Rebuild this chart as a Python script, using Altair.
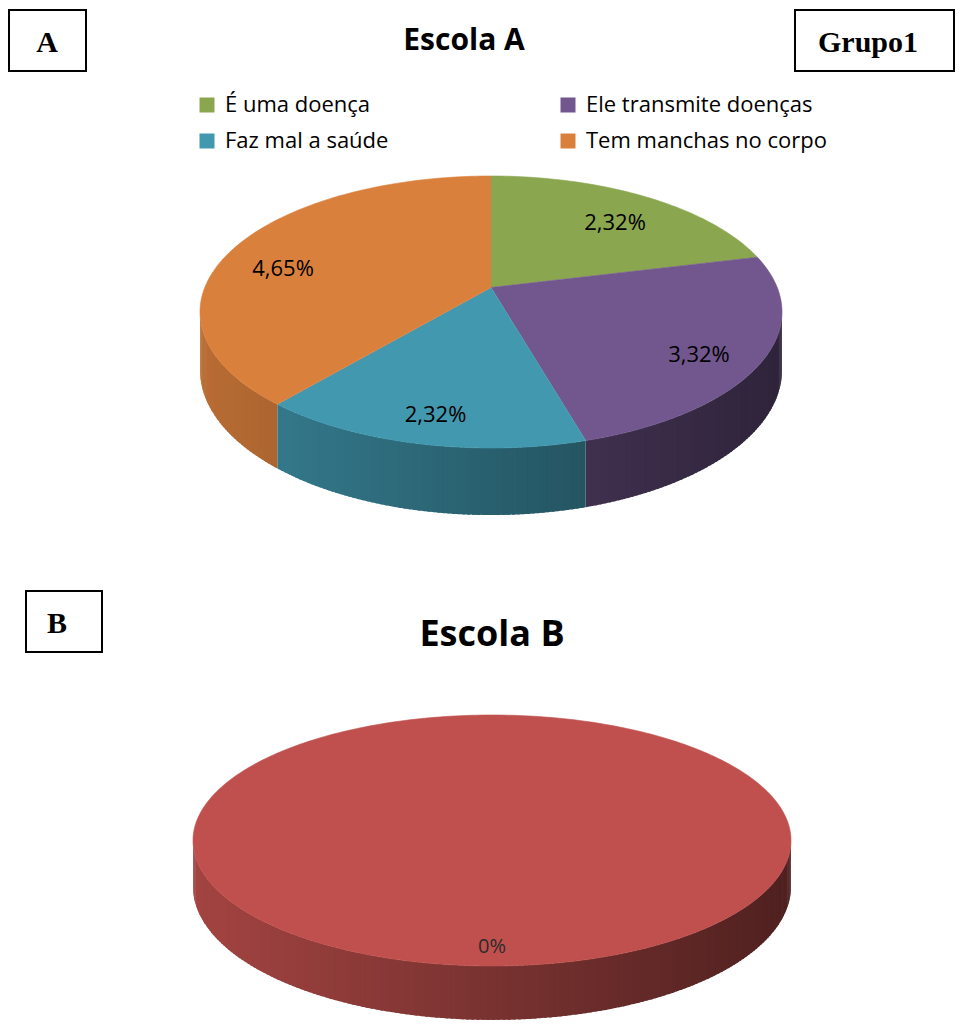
import math
import altair as alt
import pandas as pd

# ---- Escola A: answers and their percentages ----
cats_a = ["É uma doença", "Ele transmite doenças", "Faz mal a saúde", "Tem manchas no corpo"]
vals_a = [2.32, 3.32, 2.32, 4.65]
cols_a = ["#8AA64F", "#72578E", "#4198AF", "#DA803D"]

# ---- Escola B: a single answer ----
cats_b = ["Escola B"]
vals_b = [0]
cols_b = ["#C0504D"]


def shade(hexc, f):
    r, g, b = (int(hexc[i:i + 2], 16) for i in (1, 3, 5))
    return "#%02x%02x%02x" % tuple(max(0, min(255, round(c * f))) for c in (r, g, b))


def fmt_pct(v):
    if v == 0:
        return "0%"
    return f"{v:.2f}".replace(".", ",") + "%"


def pie_geometry(cats, vals, colors, apex_v, d0, k, label_r, step=1.0, overlap=0.6):
    """Top faces, front walls and label anchors of a tilted 3-D pie in unit-circle space."""
    total = sum(vals)
    n = len(vals)
    shares = [v / total for v in vals] if total > 0 else [1.0 / n] * n
    tops, sides, labels = [], [], []
    start = 90.0
    for i, (c, v, s, col) in enumerate(zip(cats, vals, shares, colors)):
        a0, a1 = start, start - 360.0 * s
        start = a1
        # top face: apex then arc, clockwise
        m = max(2, int(math.ceil((a0 - a1) / step)))
        pts = [(0.0, apex_v if s < 1 else 0.0)]
        for j in range(m + 1):
            a = math.radians(a0 - (a0 - a1) * j / m)
            pts.append((math.cos(a), math.sin(a)))
        for q, (x, y) in enumerate(pts):
            tops.append(dict(pid=f"t{i}", k=q, u=x, v=y, categoria=c, cor=col))
        # outer wall, only the front half is visible; thin strips shaded left to right
        for sh in (-360.0, 0.0, 360.0):
            lo, hi = max(a1 + sh, -180.0), min(a0 + sh, 0.0)
            if hi - lo <= 1e-9:
                continue
            ms = max(1, int(math.ceil((hi - lo) / step)))
            for j in range(ms):
                d0_deg = lo + (hi - lo) * j / ms
                d1_deg = min(hi, lo + (hi - lo) * (j + 1) / ms + overlap)
                b0, b1 = math.radians(d0_deg), math.radians(d1_deg)
                bm = 0.5 * (b0 + b1)
                fc = shade(col, 0.63 - 0.22 * math.cos(bm))
                dep0 = d0 * (1 - k * math.sin(b0))
                dep1 = d0 * (1 - k * math.sin(b1))
                quad = [
                    (math.cos(b0), math.sin(b0)),
                    (math.cos(b1), math.sin(b1)),
                    (math.cos(b1), math.sin(b1) - dep1),
                    (math.cos(b0), math.sin(b0) - dep0),
                ]
                pid = f"s{i}_{int(sh)}_{j:04d}"
                for q, (x, y) in enumerate(quad):
                    sides.append(dict(pid=pid, k=q, u=x, v=y, cor=fc))
        mid = math.radians(0.5 * (a0 + a1))
        labels.append(dict(u=label_r * math.cos(mid), v=label_r * math.sin(mid), txt=fmt_pct(v)))
    return pd.DataFrame(tops), pd.DataFrame(sides), pd.DataFrame(labels)


def pie_chart(cats, vals, colors, xr, yr, apex_v, d0, k, label_r, label_style, legend):
    tops, sides, labels = pie_geometry(cats, vals, colors, apex_v, d0, k, label_r)
    xs = alt.Scale(domain=[-1, 1], range=xr, nice=False, zero=False)
    ys = alt.Scale(domain=[-1, 1], range=yr, nice=False, zero=False)
    walls = alt.Chart(sides).mark_line(filled=True, strokeWidth=0).encode(
        x=alt.X("u:Q", scale=xs, axis=None),
        y=alt.Y("v:Q", scale=ys, axis=None),
        detail="pid:N",
        order="k:Q",
        fill=alt.Fill("cor:N", scale=None),
    )
    faces = alt.Chart(tops).mark_line(filled=True, strokeWidth=0.6).encode(
        x=alt.X("u:Q", scale=xs, axis=None),
        y=alt.Y("v:Q", scale=ys, axis=None),
        detail="pid:N",
        order="k:Q",
        color=alt.Color("categoria:N", scale=alt.Scale(domain=cats, range=colors), sort=cats,
                        legend=legend),
        stroke=alt.Stroke("cor:N", scale=None),
    )
    text = alt.Chart(labels).mark_text(**label_style).encode(
        x=alt.X("u:Q", scale=xs, axis=None),
        y=alt.Y("v:Q", scale=ys, axis=None),
        text="txt:N",
    )
    return alt.layer(walls, faces, text)


legend_a = alt.Legend(
    orient="none", legendX=196, legendY=94, direction="horizontal", columns=2,
    columnPadding=168, rowPadding=14,
    symbolType="square", symbolSize=225, symbolStrokeWidth=0, symbolOpacity=1,
    labelFont="Open Sans", labelFontSize=22, labelColor="#000000", labelOffset=7,
    labelLimit=400, padding=0, title=None,
)

pie_a = pie_chart(
    cats_a, vals_a, cols_a, xr=[200, 782], yr=[448, 176], apex_v=0.18, d0=0.426, k=0.157,
    label_r=0.78,
    label_style=dict(font="Open Sans", fontSize=22, color="#000000", baseline="middle"),
    legend=legend_a,
)
pie_b = pie_chart(
    cats_b, vals_b, cols_b, xr=[193, 791], yr=[966, 715], apex_v=0.0, d0=0.367, k=0.17,
    label_r=0.85,
    label_style=dict(font="Open Sans", fontSize=20, color="#2b2b2b", baseline="middle"),
    legend=None,
)

one = pd.DataFrame({"t": [""]})


def box(x1, y1, x2, y2):
    return alt.Chart(one).mark_rect(fill="white", stroke="black", strokeWidth=2).encode(
        x=alt.value(x1), x2=alt.value(x2), y=alt.value(y1), y2=alt.value(y2))


def label(s, x, y, font, size, weight="bold"):
    return alt.Chart(pd.DataFrame({"t": [s]})).mark_text(
        font=font, fontSize=size, fontWeight=weight, color="black",
        align="center", baseline="alphabetic",
    ).encode(x=alt.value(x), y=alt.value(y), text="t:N")


serif = "Liberation Serif"
annotations = [
    box(9, 10, 86, 71), label("A", 47, 52, serif, 30),
    box(795, 10, 954, 71), label("Grupo1", 868, 52, serif, 30),
    label("Escola A", 464, 50, "Open Sans", 30),
    box(26, 591, 102, 652), label("B", 57, 633, serif, 30),
    label("Escola B", 492, 646, "Open Sans", 36),
]

chart = alt.layer(pie_a, pie_b, *annotations).resolve_scale(
    x="independent", y="independent", color="independent",
    fill="independent", stroke="independent",
).properties(
    width=961, height=1026, autosize=alt.AutoSizeParams(type="none"), padding=0,
    background="white",
).configure_view(strokeWidth=0)

chart.save("out.html", embed_options={"renderer": "svg", "actions": False})
